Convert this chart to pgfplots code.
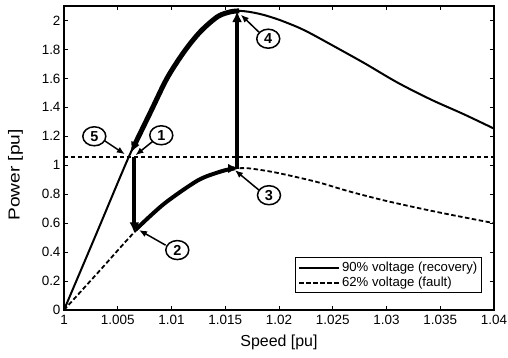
\documentclass[border=0pt]{standalone}
\usepackage{fontspec}
\setmainfont{Liberation Sans}
\usepackage{graphicx}
\usepackage{pgfplots}
\pgfplotsset{compat=1.18}
\usetikzlibrary{arrows.meta}

\pgfplotstableread{
x y
1.0000 0.000
1.0030 0.525
1.0061 1.070
1.0081 1.375
1.0096 1.603
1.0112 1.787
1.0127 1.924
1.0143 2.027
1.0155 2.060
1.0163 2.066
1.0172 2.060
1.0185 2.040
1.0200 2.005
1.0217 1.955
1.0229 1.912
1.0248 1.835
1.0279 1.707
1.0310 1.572
1.0341 1.455
1.0372 1.352
1.0400 1.253
}\recovery

\pgfplotstableread{
x y
1.0000 0.000
1.0033 0.270
1.00645 0.530
1.0093 0.733
1.0124 0.893
1.0143 0.950
1.0155 0.974
1.0165 0.980
1.0175 0.976
1.0198 0.948
1.0235 0.885
1.0264 0.822
1.0295 0.762
1.0326 0.710
1.0357 0.662
1.0400 0.600
}\fault

\begin{document}
\begin{tikzpicture}
\begin{axis}[
  scale only axis, width=430bp, height=304bp,
  xmin=1, xmax=1.04, ymin=0, ymax=2.1,
  xtick={1,1.005,1.01,1.015,1.02,1.025,1.03,1.035,1.04},
  xticklabels={1,1.005,1.01,1.015,1.02,1.025,1.03,1.035,1.04},
  ytick={0,0.2,0.4,0.6,0.8,1,1.2,1.4,1.6,1.8,2},
  yticklabels={0,0.2,0.4,0.6,0.8,1,1.2,1.4,1.6,1.8,2},
  tick align=inside, major tick length=4bp,
  tick style={black, line width=0.9bp},
  axis line style={line width=1.2bp},
  tick label style={font=\fontsize{13.5}{13.5}\selectfont},
  xticklabel style={yshift=-1.5bp},
  xlabel={Speed [pu]},
  ylabel={\scalebox{1.2}[1]{Power [pu]}},
  label style={font=\fontsize{16}{16}\selectfont},
  xlabel style={at={(axis description cs:0.5,-0.108)}, anchor=center},
  ylabel style={at={(axis description cs:-0.113,0.444)}, anchor=center, rotate=0},
  clip=false,
  legend style={at={(0.973,0.055)}, anchor=south east,
    font=\fontsize{13.2}{15}\selectfont, draw=black, line width=1.2bp,
    cells={anchor=west}, inner sep=2.5bp, row sep=0bp},
  legend image code/.code={\draw[#1] (0bp,0bp) -- (40bp,0bp);},
]
% main curves
\addplot[black, line width=2bp, smooth, tension=0.5] table[x=x,y=y] {\recovery};
\addlegendentry{90\% voltage (recovery)}
\addplot[black, line width=1.8bp, dash pattern=on 4.5bp off 2.5bp, smooth, tension=0.5] table[x=x,y=y] {\fault};
\addlegendentry{62\% voltage (fault)}
% horizontal mechanical power line
\addplot[black, line width=1.4bp, dash pattern=on 4bp off 3bp, forget plot] coordinates {(1,1.058) (1.04,1.058)};
% trajectory: recovery curve from 4 down to 1 (arrow at lower end)
\addplot[black, line width=5bp, smooth, tension=0.5, {Latex[length=11bp,width=9.5bp]}-, forget plot]
  coordinates {(1.0062,1.085) (1.0081,1.375) (1.0096,1.603) (1.0112,1.787) (1.0127,1.924) (1.0143,2.027) (1.0155,2.060) (1.0163,2.066)};
% trajectory: fault curve from 2 to 3
\addplot[black, line width=4bp, smooth, tension=0.5, -{Latex[length=10bp,width=9.5bp]}, forget plot]
  coordinates {(1.00667,0.555) (1.0093,0.733) (1.0124,0.893) (1.0143,0.950) (1.0155,0.974) (1.0162,0.978)};
% jump 1 -> 2
\addplot[black, line width=4bp, -{Latex[length=11bp,width=10bp]}, forget plot]
  coordinates {(1.00655,1.058) (1.00655,0.53)};
% jump 3 -> 4
\addplot[black, line width=3.5bp, -{Latex[length=11bp,width=10bp]}, forget plot]
  coordinates {(1.0161,0.975) (1.0161,2.065)};
% annotation arrows
\draw[black, line width=1.5bp, -{Latex[length=8bp,width=6.5bp]}] (axis cs:1.00372,1.172) -- (axis cs:1.00566,1.076);
\draw[black, line width=1.5bp, -{Latex[length=8bp,width=6.5bp]}] (axis cs:1.00837,1.172) -- (axis cs:1.00665,1.069);
\draw[black, line width=1.5bp, -{Latex[length=8bp,width=6.5bp]}] (axis cs:1.00945,0.448) -- (axis cs:1.00698,0.552);
\draw[black, line width=1.5bp, -{Latex[length=8bp,width=6.5bp]}] (axis cs:1.01814,0.828) -- (axis cs:1.01590,0.966);
\draw[black, line width=1.5bp, -{Latex[length=8bp,width=6.5bp]}] (axis cs:1.01814,1.919) -- (axis cs:1.01645,2.040);
% circled labels
\draw[black, line width=1.5bp, fill=white] (axis cs:1.00282,1.200) ellipse [x radius=11.5bp, y radius=9.5bp];
\node[font=\fontsize{14.5}{14.5}\selectfont\bfseries, inner sep=0pt] at (axis cs:1.00282,1.200) {5};
\draw[black, line width=1.5bp, fill=white] (axis cs:1.00905,1.207) ellipse [x radius=11.5bp, y radius=9.5bp];
\node[font=\fontsize{14.5}{14.5}\selectfont\bfseries, inner sep=0pt] at (axis cs:1.00905,1.207) {1};
\draw[black, line width=1.5bp, fill=white] (axis cs:1.01054,0.414) ellipse [x radius=11.5bp, y radius=9.5bp];
\node[font=\fontsize{14.5}{14.5}\selectfont\bfseries, inner sep=0pt] at (axis cs:1.01054,0.414) {2};
\draw[black, line width=1.5bp, fill=white] (axis cs:1.01907,0.793) ellipse [x radius=11.5bp, y radius=9.5bp];
\node[font=\fontsize{14.5}{14.5}\selectfont\bfseries, inner sep=0pt] at (axis cs:1.01907,0.793) {3};
\draw[black, line width=1.5bp, fill=white] (axis cs:1.01900,1.874) ellipse [x radius=11.5bp, y radius=9.5bp];
\node[font=\fontsize{14.5}{14.5}\selectfont\bfseries, inner sep=0pt] at (axis cs:1.01900,1.874) {4};
\end{axis}
\pgfresetboundingbox
\useasboundingbox ([shift={(-64bp,-48bp)}]current axis.south west) rectangle ([shift={(14bp,6bp)}]current axis.north east);
\end{tikzpicture}
\end{document}
